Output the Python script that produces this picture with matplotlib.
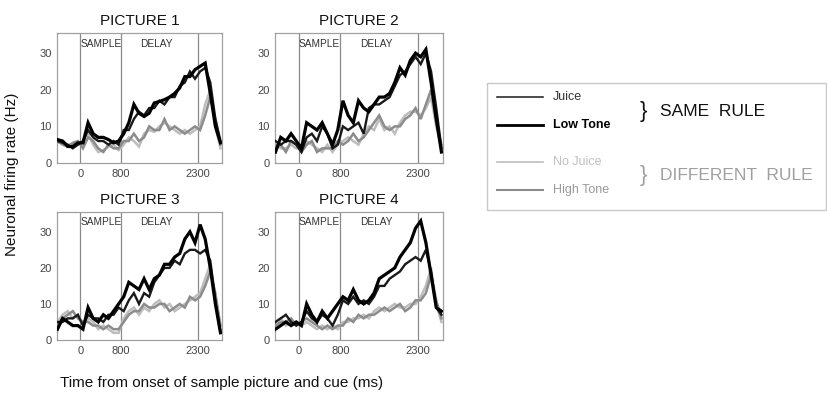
import matplotlib
matplotlib.use("Agg")
import matplotlib.pyplot as plt
from matplotlib.lines import Line2D
from matplotlib.patches import Rectangle

plt.rcParams['font.family'] = ['Liberation Sans', 'DejaVu Sans']

time_ms = list(range(-450, 2751, 100))
panel_titles = ["PICTURE 1", "PICTURE 2", "PICTURE 3", "PICTURE 4"]
series_names = ["Juice", "Low Tone", "No Juice", "High Tone"]
xtick_vals = [0, 800, 2300]
ytick_vals = [0, 10, 20, 30]

juice1 = [6,5.5,5,4,5,6,9,7,6,6,5,6,5,9,9,12,14,13,15,15,17,16,18,18,21,22,25,23,25,26,22,12,6]
lowtone1 = [6.4,6,4.5,4.5,5.5,5.5,11,8,7,7,6.4,5.5,6,8,11,16,13.6,12.7,13.6,16.4,16.8,17.3,18,19,20.5,23.6,23.6,25.5,26.4,27.3,19,10,5.5]
nojuice1 = [5.5,6,5,5,5.5,5,8,5,3,3.5,4.5,5,3.5,5,7,6,4.5,8,9,8.5,10,11,10,9,8,9,8,9,10,16,20,10,4]
hightone1 = [6,5,4.5,5.5,6,4,7,6,4,3,5,4,4,6,6,8,6,7,10,9,9,12,9,10,9,8,9,10,9,13,18,12,5]

juice2 = [6,5,6,6,5,3,7,8,6,10,8,4,5,10,9,10,11,8,15,16,16,17,18,21,24,25,27,29,27,30,25,15,4]
lowtone2 = [3,7,6,8,6,4,11,10,9,11,8,5,9,17,13,11,17,15,14,16,18,18,19,22,26,24,28,30,29,31,22,12,3]
nojuice2 = [5,4,4,5,4,4,6,5,4,3,5,3,5,6,7,6,5,8,10,9,12,9,10,8,11,13,14,14,13,15,18,10,4]
hightone2 = [4,5,3,6,5,3,5,6,3,4,4,4,6,5,6,8,6,7,9,11,13,10,9,10,10,12,13,15,12,16,20,11,5]

juice3 = [5,5,6,6,7,4,7,6,6,5,7,7,9,8,11,13,10,13,12,16,18,20,20,22,21,24,25,25,24,25,22,11,2]
lowtone3 = [3,6,5,4,4,3,9,6,5,7,6,8,10,12,16,15,14,17,14,17,18,21,21,23,24,28,30,27,32,28,20,10,2]
nojuice3 = [5,7,8,6,7,4,6,5,3,4,3,2,2,6,8,9,7,9,8,10,11,9,10,8,9,10,11,12,13,17,21,12,3]
hightone3 = [4,6,7,8,6,5,5,4,4,3,4,3,3,5,7,8,8,10,9,9,10,10,8,9,10,9,12,11,12,15,19,13,4]

juice4 = [5,6,7,5,4,5,8,6,5,7,6,4,7,11,10,12,10,11,10,12,15,15,17,18,19,21,22,23,22,25,19,9,7]
lowtone4 = [3,4,5,4,5,4,10,7,5,8,6,8,10,12,11,14,11,10,11,13,17,18,19,20,23,25,27,31,33,27,18,9,8]
nojuice4 = [5,6,4,5,5,4,5,4,3,4,3,4,3,5,5,6,6,7,6,8,9,8,9,10,9,9,10,10,12,15,20,10,5]
hightone4 = [4,5,5,6,4,5,6,5,4,3,4,3,4,4,6,5,7,6,7,7,8,9,8,9,10,8,9,11,11,13,18,11,6]

panels = [
    [juice1, lowtone1, nojuice1, hightone1],
    [juice2, lowtone2, nojuice2, hightone2],
    [juice3, lowtone3, nojuice3, hightone3],
    [juice4, lowtone4, nojuice4, hightone4],
]

styles = {
    "Juice": dict(color="#1a1a1a", lw=1.7, zorder=4),
    "Low Tone": dict(color="#000000", lw=2.3, zorder=5),
    "No Juice": dict(color="#bdbdbd", lw=1.8, zorder=2),
    "High Tone": dict(color="#8c8c8c", lw=1.8, zorder=3),
}

W, H = 827, 398
fig = plt.figure(figsize=(W / 100, H / 100), dpi=100)

def fx(px):
    return px / W

def fy(py):
    return 1 - py / H

boxes = [(57, 33, 222, 163), (275, 33, 443, 163), (57, 212, 222, 340), (275, 212, 443, 340)]

for i, (l, t, r, b) in enumerate(boxes):
    ax = fig.add_axes([fx(l), fy(b), (r - l) / W, (b - t) / H])
    for name, vals in zip(series_names, panels[i]):
        ax.plot(time_ms, vals, solid_joinstyle="miter", **styles[name])
    for xv in xtick_vals:
        ax.axvline(xv, color="#8a8a8a", lw=0.9, zorder=1)
    ax.set_xlim(-460, 2780)
    ax.set_ylim(0, 35.5)
    ax.set_xticks(xtick_vals)
    ax.set_xticklabels([str(v) for v in xtick_vals])
    ax.set_yticks(ytick_vals)
    ax.set_yticklabels([str(v) for v in ytick_vals])
    ax.tick_params(length=0, labelsize=8, labelcolor="#444444", pad=4)
    for s in ax.spines.values():
        s.set_color("#a0a0a0")
        s.set_linewidth(0.9)
    ax.text(400, 32.6, "SAMPLE", ha="center", va="center", fontsize=7.3, color="#333333")
    ax.text(1500, 32.6, "DELAY", ha="center", va="center", fontsize=7.3, color="#333333")
    ax.set_title(panel_titles[i], fontsize=11, color="#111111", pad=6)

fig.text(fx(12), fy(174), "Neuronal firing rate (Hz)", rotation=90, ha="center", va="center",
         fontsize=11, color="#111111")
fig.text(fx(222), fy(383), "Time from onset of sample picture and cue (ms)", ha="center", va="center",
         fontsize=11, color="#111111")

# Legend
fig.patches.append(Rectangle((fx(487), fy(210)), fx(826) - fx(487), fy(83) - fy(210),
                             transform=fig.transFigure, fill=False, edgecolor="#c8c8c8", lw=1.0))
leg_y = [97, 125, 162, 190]
leg_text_colors = ["#333333", "#000000", "#c0c0c0", "#9a9a9a"]
leg_weights = ["normal", "bold", "normal", "normal"]
leg_lw = [1.1, 2.0, 1.2, 1.5]
for name, yy, tc, wt, lw in zip(series_names, leg_y, leg_text_colors, leg_weights, leg_lw):
    fig.lines.append(Line2D([fx(497), fx(543)], [fy(yy), fy(yy)], transform=fig.transFigure,
                            color=styles[name]["color"], lw=lw))
    fig.text(fx(553), fy(yy), name, ha="left", va="center", fontsize=9, color=tc, fontweight=wt)

fig.text(fx(640), fy(111), "}", ha="left", va="center", fontsize=16, color="#111111")
fig.text(fx(660), fy(111), "SAME  RULE", ha="left", va="center", fontsize=12.5, color="#111111")
fig.text(fx(640), fy(176), "}", ha="left", va="center", fontsize=16, color="#a0a0a0")
fig.text(fx(660), fy(176), "DIFFERENT  RULE", ha="left", va="center", fontsize=12.5, color="#a0a0a0")

fig.savefig("out.png", dpi=100, facecolor="white")
